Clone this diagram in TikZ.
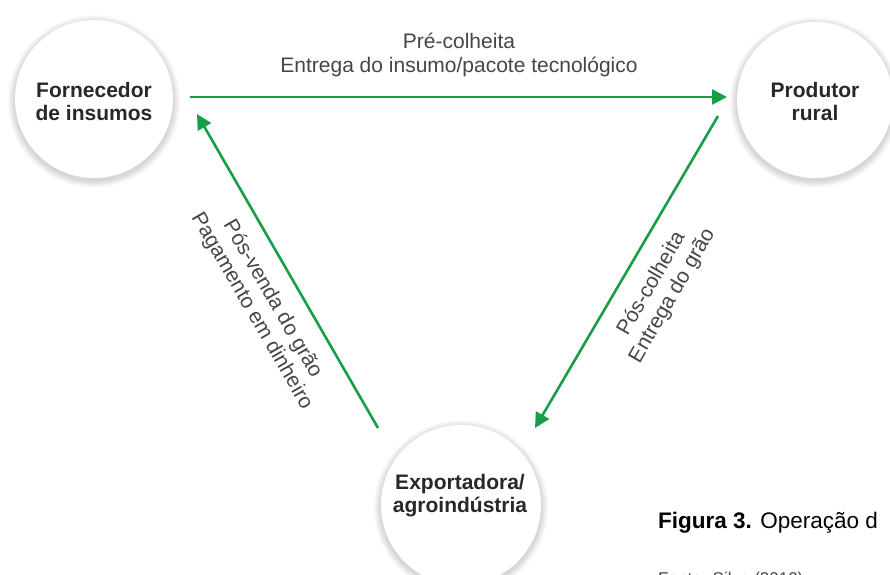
\documentclass[tikz,border=0pt]{standalone}
\usepackage{fontspec}
\setmainfont{Liberation Sans}
\usetikzlibrary{arrows.meta}
\definecolor{arrgreen}{RGB}{24,158,72}
\definecolor{txtdark}{RGB}{40,40,40}
\definecolor{txtgray}{RGB}{70,70,70}
\tikzset{
  flow/.style={draw=arrgreen, line width=2.6pt, -{Triangle[length=15pt,width=15pt]}},
  circtext/.style={align=center, font=\fontsize{21}{23}\selectfont\bfseries, text=txtdark, inner sep=0pt},
  lbl/.style={align=center, font=\fontsize{21}{24}\selectfont, text=txtgray, inner sep=0pt},
}
\newcommand{\shadowcircle}[3]{%
  \foreach \k in {1,...,8}{%
    \fill[black, opacity=0.018] (#1,#2+2.5) circle ({#3+\k*0.9});
  }%
  \fill[white] (#1,#2) circle (#3);
}
\begin{document}
\begin{tikzpicture}[x=1pt,y=-1pt]
\useasboundingbox (0,0) rectangle (890,574);
\clip (0,0) rectangle (890,574);
\fill[white] (0,0) rectangle (890,574);
% circles
\shadowcircle{94}{99}{79}
\shadowcircle{815}{100}{78}
\shadowcircle{461}{505}{80}
\node[circtext] (forn) at (94,101) {Fornecedor\\de insumos};
\node[circtext] (prod) at (815,101) {Produtor\\rural};
\node[circtext] (expo) at (460,496) {Exportadora/\\agroindústria};
% arrow end points
\coordinate (t1) at (190,97);
\coordinate (t2) at (727,97);
\coordinate (r1) at (718,116);
\coordinate (r2) at (535,428);
\coordinate (l1) at (378,428);
\coordinate (l2) at (197,114);
\draw[flow] (t1) -- (t2);
\draw[flow] (r1) -- (r2);
\draw[flow] (l1) -- (l2);
% labels
\node[lbl] (ltop) at (459,55) {Pré-colheita\\Entrega do insumo/pacote tecnológico};
\node[lbl, rotate=60] (lright) at (662,290) {Pós-colheita\\Entrega do grão};
\node[lbl, rotate=-60] (lleft) at (262,305) {Pós-venda do grão\\Pagamento em dinheiro};
% caption
\node[anchor=base west, inner sep=0pt, font=\fontsize{22.5}{25}\selectfont, text=black] (cap) at (658,528) {\textbf{Figura 3.} Operação d};
\node[anchor=base west, inner sep=0pt, font=\fontsize{17}{19}\selectfont, text=txtgray] (src) at (658,584) {Fonte: Silva (2012)};
\end{tikzpicture}
\end{document}
